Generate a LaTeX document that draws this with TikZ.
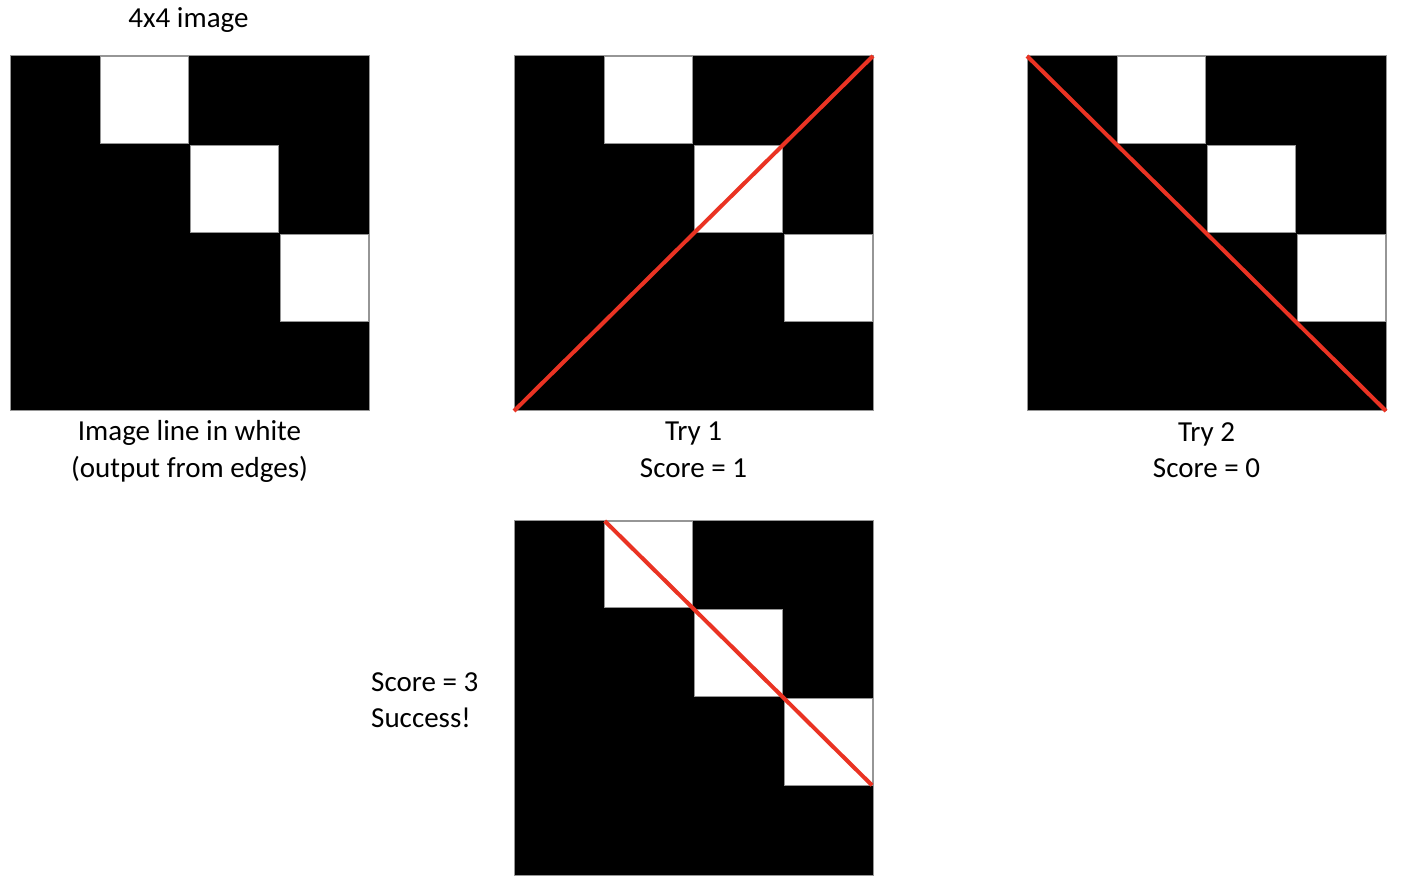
\documentclass[tikz,border=0pt]{standalone}
\usepackage{fontspec}
\setmainfont{Carlito}
\usepackage{tikz}
\usetikzlibrary{positioning}
\definecolor{tryred}{RGB}{234,51,35}
\definecolor{edgegray}{RGB}{150,150,150}

\newcommand{\pixgrid}[3]{%
  \node[board] (#1) at (#2,#3) {};
  \foreach \col in {1,2,3} {
    \node[pixel] (#1w\col) at (#2+\col*89.75+1,#3+\col*88.75-88.75+1) {};
  }
}

\begin{document}
\begin{tikzpicture}[
  x=1pt,y=-1pt,
  board/.style={anchor=north west,draw=edgegray,line width=1pt,fill=black,inner sep=0pt,outer sep=0pt,minimum width=359pt,minimum height=355pt},
  pixel/.style={anchor=north west,draw=edgegray,line width=1pt,fill=white,inner sep=0pt,outer sep=0pt,minimum width=87.75pt,minimum height=86.75pt},
  lbl/.style={font=\fontsize{29}{36}\selectfont,align=center,inner sep=0pt,anchor=base},
  fit line/.style={draw=tryred,line width=4pt}
]
\useasboundingbox (0,0) rectangle (1422,882);
\pixgrid{g1}{10}{56}
\pixgrid{g2}{514}{56}
\pixgrid{g3}{1027}{56}
\pixgrid{g4}{514}{520}
\draw[fit line] (g2.south west) -- (g2.north east);
\draw[fit line] (g3.north west) -- (g3.south east);
\draw[fit line] (g4w1.north west) -- (g4w3.south east);
% base of a two-line label is its last line
\node[lbl] (title) at (188.5,28) {4x4 image};
\node[lbl] (cap1) at (189.5,477) {Image line in white\\(output from edges)};
\node[lbl] (cap2) at (693.5,477) {Try 1\\Score = 1};
\node[lbl] (cap3) at (1206.5,478) {Try 2\\Score = 0};
\node[lbl,align=left,anchor=base west] (cap4) at (371,727) {Score = 3\\Success!};
\end{tikzpicture}
\end{document}
